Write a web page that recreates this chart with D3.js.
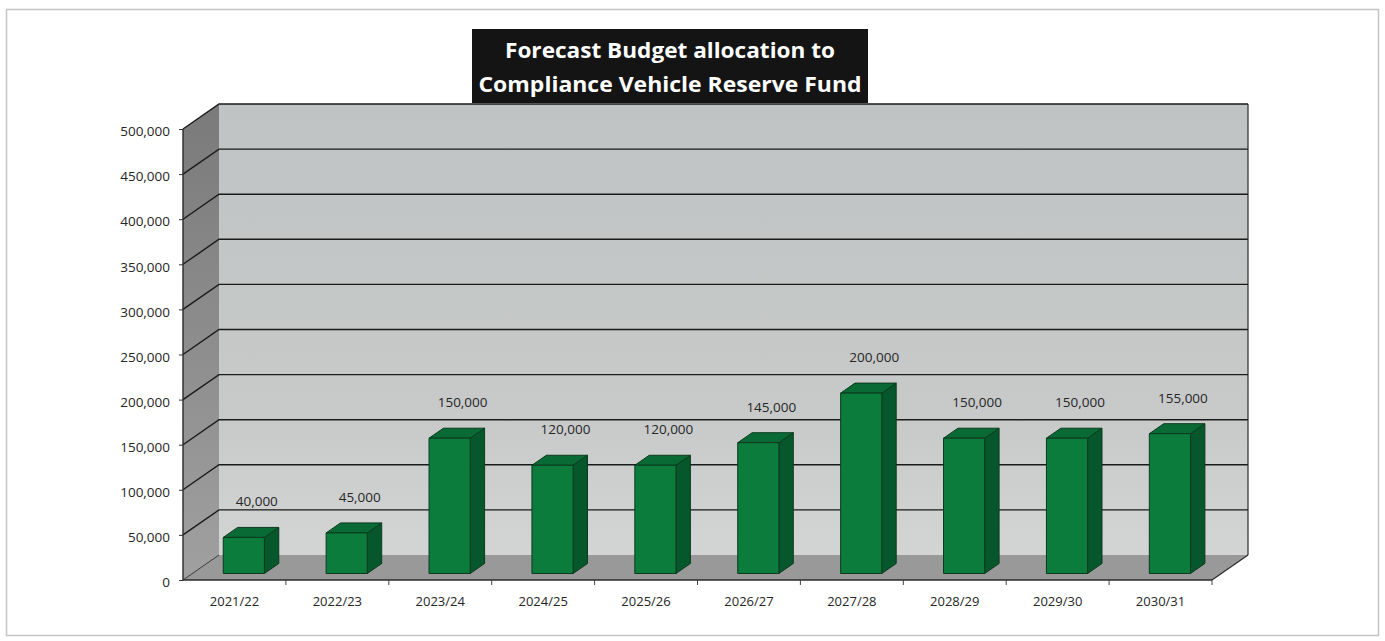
<!DOCTYPE html>
<html>
<head>
<meta charset="utf-8">
<script src="https://cdn.jsdelivr.net/npm/d3@7"></script>
<style>
  html, body { margin: 0; padding: 0; background: #ffffff; }
  svg { display: block; }
  text { font-family: "Open Sans", "Liberation Sans", sans-serif; }
</style>
</head>
<body>
<svg id="chart" width="1385" height="641"></svg>
<script>
// Forecast budget allocations per financial year
const years = ["2021/22", "2022/23", "2023/24", "2024/25", "2025/26",
               "2026/27", "2027/28", "2028/29", "2029/30", "2030/31"];
const allocation = [40000, 45000, 150000, 120000, 120000,
                    145000, 200000, 150000, 150000, 155000];
const yTicks = [0, 50000, 100000, 150000, 200000, 250000,
                300000, 350000, 400000, 450000, 500000];
const titleLines = ["Forecast Budget allocation to", "Compliance Vehicle Reserve Fund"];

const svg = d3.select("#chart");

// Front plane of the 3D box and its depth offset
const plot = { left: 183, right: 1212, top: 129, bottom: 580 };
const depth = { dx: 36, dy: -25 };

const x = d3.scaleBand().domain(years).range([plot.left, plot.right]).padding(0);
const y = d3.scaleLinear().domain([0, 500000]).range([plot.bottom, plot.top]);

// Project a point at (screen x, screen y on the front plane, depth fraction z)
const proj = (px, py, z) => [px + depth.dx * z, py + depth.dy * z];
const poly = pts => "M" + pts.map(p => p.join(",")).join("L") + "Z";

const defs = svg.append("defs");
const wallGrad = defs.append("linearGradient").attr("id", "wall")
  .attr("x1", 0).attr("y1", 0).attr("x2", 0).attr("y2", 1);
wallGrad.append("stop").attr("offset", 0).attr("stop-color", "#c0c3c3");
wallGrad.append("stop").attr("offset", 0.7).attr("stop-color", "#c8caca");
wallGrad.append("stop").attr("offset", 1).attr("stop-color", "#d3d5d5");
const sideGrad = defs.append("linearGradient").attr("id", "side")
  .attr("x1", 0).attr("y1", 0).attr("x2", 0).attr("y2", 1);
sideGrad.append("stop").attr("offset", 0).attr("stop-color", "#7a7a7a");
sideGrad.append("stop").attr("offset", 1).attr("stop-color", "#a0a0a0");

// Outer chart border
svg.append("rect")
  .attr("x", 6.5).attr("y", 9.5).attr("width", 1372).attr("height", 626)
  .attr("fill", "#ffffff").attr("stroke", "#c4c4c4").attr("stroke-width", 1.5);

const [v0min, v0max] = y.domain();

// Back wall
svg.append("path")
  .attr("d", poly([proj(plot.left, y(v0max), 1), proj(plot.right, y(v0max), 1),
                   proj(plot.right, y(v0min), 1), proj(plot.left, y(v0min), 1)]))
  .attr("fill", "url(#wall)");

// Side wall
svg.append("path")
  .attr("d", poly([proj(plot.left, y(v0max), 0), proj(plot.left, y(v0max), 1),
                   proj(plot.left, y(v0min), 1), proj(plot.left, y(v0min), 0)]))
  .attr("fill", "url(#side)");

// Floor
svg.append("path")
  .attr("d", poly([proj(plot.left, y(0), 0), proj(plot.left, y(0), 1),
                   proj(plot.right, y(0), 1), proj(plot.right, y(0), 0)]))
  .attr("fill", "#999999");

// Gridlines: across the back wall and diagonally over the side wall
const grid = svg.append("g").attr("stroke", "#1a1a1a").attr("stroke-width", 1.4).attr("fill", "none");
yTicks.filter(v => v > 0).forEach(v => {
  const a = proj(plot.left, y(v), 0), b = proj(plot.left, y(v), 1), c = proj(plot.right, y(v), 1);
  grid.append("path").attr("d", `M${a}L${b}L${c}`);
});
grid.append("path").attr("d", `M${proj(plot.left, y(0), 0)}L${proj(plot.left, y(0), 1)}`)
  .attr("stroke-width", 0.8);

// Box outline: back wall right edge, floor front and right edges
const edge = svg.append("g").attr("stroke", "#2a2a2a").attr("fill", "none");
edge.append("path").attr("stroke-width", 1.2)
  .attr("d", `M${proj(plot.right, y(v0max), 1)}L${proj(plot.right, y(0), 1)}`);
edge.append("path").attr("stroke-width", 1.2)
  .attr("d", `M${proj(plot.right, y(0), 1)}L${proj(plot.right, y(0), 0)}`);
edge.append("path").attr("stroke-width", 1.6)
  .attr("d", `M${proj(plot.left, y(0), 0)}L${proj(plot.right, y(0), 0)}`);
edge.append("path").attr("stroke-width", 1.4)
  .attr("d", `M${proj(plot.left, y(v0max), 0)}L${proj(plot.left, y(0), 0)}`);

// Y axis labels and ticks on the front edge
const yAxis = d3.axisLeft(y).tickValues(yTicks).tickFormat(d3.format(",")).tickSize(4).tickPadding(9);
const yg = svg.append("g").attr("transform", `translate(${plot.left},0)`).call(yAxis);
yg.select(".domain").remove();
yg.selectAll(".tick line").attr("stroke", "#333");
yg.selectAll(".tick text")
  .attr("font-size", 13.5).attr("fill", "#262626")
  .attr("font-family", "'Open Sans', sans-serif").attr("dy", "0.5em");

// X axis: category labels centred on bands, ticks at band boundaries
const xAxis = d3.axisBottom(x).tickSize(0).tickPadding(17);
const xg = svg.append("g").attr("transform", `translate(0,${plot.bottom})`).call(xAxis);
xg.select(".domain").remove();
xg.selectAll(".tick text")
  .attr("font-size", 13).attr("fill", "#262626")
  .attr("font-family", "'Open Sans', sans-serif");
svg.append("g").attr("stroke", "#444").attr("stroke-width", 1)
  .selectAll("line").data(years.slice(1).concat(["_end"]))
  .join("line")
  .attr("x1", d => d === "_end" ? plot.right : x(d))
  .attr("x2", d => d === "_end" ? plot.right : x(d))
  .attr("y1", plot.bottom).attr("y2", plot.bottom + 5);

// Value labels (drawn before bars, so bars sit in front of them)
const barW = x.bandwidth() * 0.4;
const zFront = 0.26, zBack = 0.66;
svg.append("g").selectAll("text").data(years)
  .join("text")
  .attr("x", (d, i) => proj(x(d) + x.bandwidth() / 2, y(allocation[i]), zFront)[0] + 13)
  .attr("y", (d, i) => proj(x(d) + x.bandwidth() / 2, y(allocation[i]), zFront)[1] - 31)
  .attr("text-anchor", "middle")
  .attr("font-size", 13.5).attr("fill", "#262626")
  .text((d, i) => d3.format(",")(allocation[i]));

// 3D bars: front, side and top faces
const bars = svg.append("g").attr("stroke", "#0b3a1d").attr("stroke-width", 1).attr("stroke-linejoin", "round");
years.forEach((d, i) => {
  const cx = x(d) + x.bandwidth() / 2;
  const x0 = cx - barW / 2, x1 = cx + barW / 2;
  const yt = y(allocation[i]), yb = y(0);
  const g = bars.append("g");
  g.append("path").attr("fill", "#07572c")
    .attr("d", poly([proj(x1, yt, zFront), proj(x1, yt, zBack), proj(x1, yb, zBack), proj(x1, yb, zFront)]));
  g.append("path").attr("fill", "#0a6a35")
    .attr("d", poly([proj(x0, yt, zFront), proj(x0, yt, zBack), proj(x1, yt, zBack), proj(x1, yt, zFront)]));
  g.append("path").attr("fill", "#0c7c3d")
    .attr("d", poly([proj(x0, yt, zFront), proj(x1, yt, zFront), proj(x1, yb, zFront), proj(x0, yb, zFront)]));
});

// Title box
const titleBox = { x: 472, y: 29, w: 396, h: 74 };
svg.append("rect")
  .attr("x", titleBox.x).attr("y", titleBox.y)
  .attr("width", titleBox.w).attr("height", titleBox.h)
  .attr("fill", "#141414");
const titleWidths = [330, 383];
svg.append("g").selectAll("text").data(titleLines)
  .join("text")
  .attr("x", titleBox.x + titleBox.w / 2)
  .attr("y", (d, i) => titleBox.y + 29 + i * 34)
  .attr("text-anchor", "middle")
  .attr("font-size", 22).attr("font-weight", "bold").attr("fill", "#ffffff")
  .attr("textLength", (d, i) => titleWidths[i])
  .attr("lengthAdjust", "spacingAndGlyphs")
  .text(d => d);
</script>
</body>
</html>
